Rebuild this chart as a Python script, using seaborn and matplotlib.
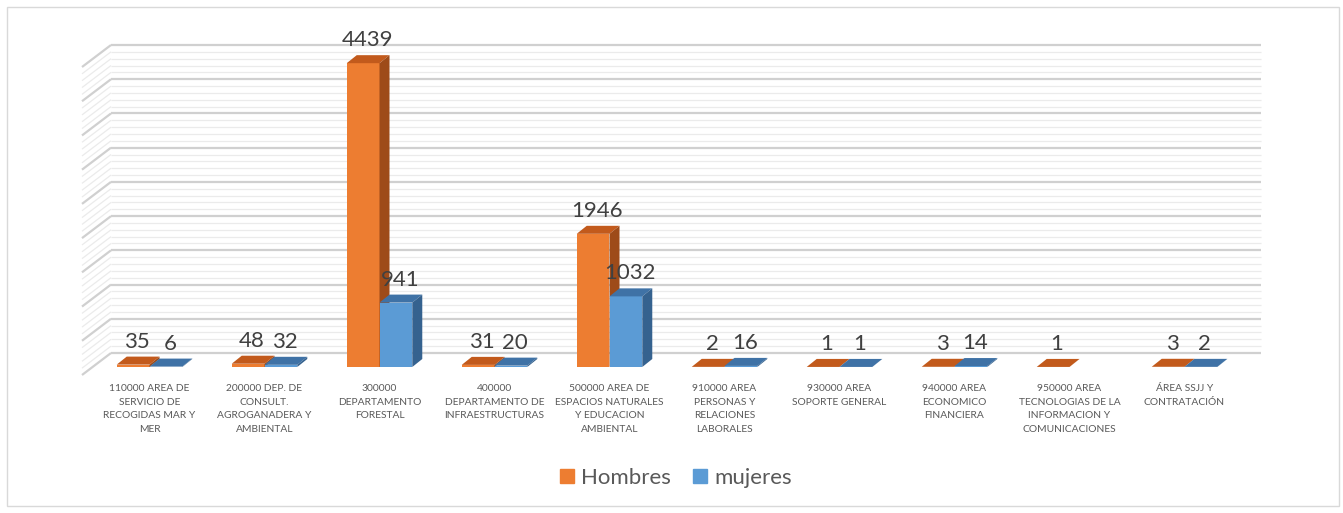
import matplotlib

matplotlib.use("Agg")
import matplotlib.pyplot as plt
import numpy as np
import pandas as pd
import seaborn as sns
from matplotlib.patches import Patch, Polygon, Rectangle

AREAS = [
    "110000 AREA DE\nSERVICIO DE\nRECOGIDAS MAR Y\nMER",
    "200000 DEP. DE\nCONSULT.\nAGROGANADERA Y\nAMBIENTAL",
    "300000\nDEPARTAMENTO\nFORESTAL",
    "400000\nDEPARTAMENTO DE\nINFRAESTRUCTURAS",
    "500000 AREA DE\nESPACIOS NATURALES\nY EDUCACION\nAMBIENTAL",
    "910000 AREA\nPERSONAS Y\nRELACIONES\nLABORALES",
    "930000 AREA\nSOPORTE GENERAL",
    "940000 AREA\nECONOMICO\nFINANCIERA",
    "950000 AREA\nTECNOLOGIAS DE LA\nINFORMACION Y\nCOMUNICACIONES",
    "ÁREA SSJJ Y\nCONTRATACIÓN",
]
HOMBRES = [35, 48, 4439, 31, 1946, 2, 1, 3, 1, 3]
MUJERES = [6, 32, 941, 20, 1032, 16, 1, 14, np.nan, 2]
SERIES = ["Hombres", "mujeres"]

ORANGE = ("#ed7d31", "#c25a1c", "#9e4b19")  # front, top, side
BLUE = ("#5b9bd5", "#3f72a6", "#35628f")

W, H = 1343, 513
AX_L, AX_B, AX_W, AX_H = 92, 146, 1150, 308
YMAX = 4500
BACK = (19, 14)   # back wall offset in px
FRONT = (-10, -8)  # front floor edge offset in px
DEPTH = (10, 8)   # bar depth in px


def px(dx, dy):
    return dx * 10 / AX_W, dy * YMAX / AX_H


def main() -> None:
    sns.set_theme(style="white")
    plt.rcParams["font.family"] = ["Lato", "DejaVu Sans"]

    df = pd.DataFrame(
        {
            "area": AREAS * 2,
            "n": HOMBRES + MUJERES,
            "sexo": [SERIES[0]] * len(AREAS) + [SERIES[1]] * len(AREAS),
        }
    )

    fig = plt.figure(figsize=(W / 100, H / 100), dpi=100)
    ax = fig.add_axes([AX_L / W, AX_B / H, AX_W / W, AX_H / H])

    sns.barplot(
        data=df, x="area", y="n", hue="sexo", palette=[ORANGE[0], BLUE[0]],
        width=0.57, saturation=1, errorbar=None, legend=False, ax=ax,
        linewidth=0, zorder=3,
    )

    # back wall + side wall gridlines
    bx, by = px(*BACK)
    fx, fy = px(*FRONT)
    for v in range(0, YMAX + 1, 100):
        major = v % 500 == 0
        col = "#d0d0d0" if major else "#ebebeb"
        lw = 1.6 if major else 0.9
        ax.plot([-0.5 + bx, 9.5 + bx], [v + by, v + by], color=col, lw=lw,
                zorder=0, clip_on=False, solid_capstyle="butt")
        ax.plot([-0.5 + fx, -0.5 + bx], [v + fy, v + by], color=col, lw=lw,
                zorder=0, clip_on=False, solid_capstyle="butt")

    # 3d faces on the bars
    dx, dy = px(*DEPTH)
    for p in ax.patches:
        h = p.get_height()
        if not np.isfinite(h):
            p.set_visible(False)
            continue
        x0, w = p.get_x(), p.get_width()
        fc = matplotlib.colors.to_hex(p.get_facecolor())
        cols = ORANGE if fc == ORANGE[0] else BLUE
        z = 3 + x0
        p.set_zorder(z)
        top = Polygon([(x0, h), (x0 + w, h), (x0 + w + dx, h + dy), (x0 + dx, h + dy)],
                      closed=True, fc=cols[1], ec="none", zorder=z, clip_on=False)
        side = Polygon([(x0 + w, 0), (x0 + w + dx, dy), (x0 + w + dx, h + dy), (x0 + w, h)],
                       closed=True, fc=cols[2], ec="none", zorder=z, clip_on=False)
        ax.add_patch(top)
        ax.add_patch(side)
        ax.annotate(f"{int(h)}", xy=(x0 + w / 2, h), xytext=(4, 17),
                    textcoords="offset pixels", ha="center", va="baseline",
                    fontsize=16, color="#404040", zorder=50)

    ax.set_xlim(-0.5, 9.5)
    ax.set_ylim(0, YMAX)
    ax.set_yticks([])
    ax.set_xlabel("")
    ax.set_ylabel("")
    for s in ax.spines.values():
        s.set_visible(False)
    ax.set_facecolor("none")
    ax.set_xticks(range(len(AREAS)))
    ax.set_xticklabels(AREAS, fontsize=7.4, color="#595959", linespacing=1.7)
    ax.tick_params(axis="x", length=0, pad=12)

    handles = [Patch(color=ORANGE[0], label=SERIES[0]), Patch(color=BLUE[0], label=SERIES[1])]
    leg = fig.legend(handles=handles, ncol=2, loc="center",
                     bbox_to_anchor=(676 / W, 35 / H), frameon=False, fontsize=16,
                     handlelength=0.63, handleheight=0.63, handletextpad=0.3,
                     columnspacing=1.0)
    for t in leg.get_texts():
        t.set_color("#595959")

    fig.patches.append(Rectangle((7 / W, 7 / H), (1339 - 7) / W, (506 - 7) / H,
                                 transform=fig.transFigure, fill=False,
                                 edgecolor="#d9d9d9", lw=1))
    fig.savefig("out.png", dpi=100, facecolor="white")


if __name__ == "__main__":
    main()
